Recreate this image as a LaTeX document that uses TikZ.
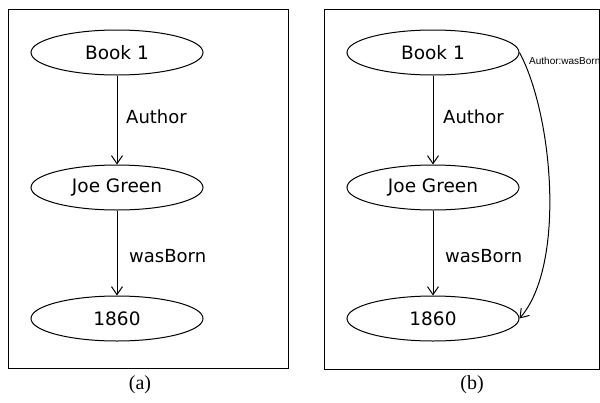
\documentclass[tikz,border=0pt]{standalone}
\usepackage{fontspec}
\setmainfont{Liberation Serif}
\newfontfamily\graphfont{DejaVu Sans}
\newfontfamily\smallfont{Liberation Sans}
\usetikzlibrary{shapes.geometric,arrows.meta}
\begin{document}
\begin{tikzpicture}[x=1pt,y=-1pt,
  ent/.style={ellipse,draw,line width=1pt,minimum width=172pt,minimum height=45pt,inner sep=0pt,font=\graphfont\fontsize{18.5}{20}\selectfont},
  lbl/.style={anchor=west,inner sep=0pt,font=\graphfont\fontsize{18}{20}\selectfont},
  rel/.style={draw,line width=1pt,-{Straight Barb[length=8pt,width=11pt,line width=1pt]}},
  panel/.style={draw,line width=1pt},
  captext/.style={font=\fontsize{20}{22}\selectfont,inner sep=0pt}]
\useasboundingbox (0,0) rectangle (600,402);
\begin{scope}
\clip (0,0) rectangle (600,402);
% left panel
\draw[panel] (8,9) rectangle (288,368);
\node[ent] (a1) at (117,52.5) {Book 1};
\node[ent] (a2) at (117,187.5) {Joe Green};
\node[ent] (a3) at (117,318.5) {1860};
\draw[rel] (a1) -- (a2);
\draw[rel] (a2) -- (a3);
\node[lbl] (al1) at (126,117) {Author};
\node[lbl] (al2) at (129,256) {wasBorn};
\node[captext] (ca) at (140,385) {(a)};
% right panel
\draw[panel] (324,9) rectangle (599.5,369);
\node[ent] (b1) at (433,52.5) {Book 1};
\node[ent] (b2) at (433,187.5) {Joe Green};
\node[ent] (b3) at (433,318.5) {1860};
\draw[rel] (b1) -- (b2);
\draw[rel] (b2) -- (b3);
\node[lbl] (bl1) at (443,117) {Author};
\node[lbl] (bl2) at (445,256) {wasBorn};
\draw[rel] (b1.east) .. controls (553,115) and (566,265) .. (b3.east);
\node[anchor=west,inner sep=0pt,font=\smallfont\fontsize{10}{12}\selectfont] (bl3) at (529,61) {Author:wasBorn};
\node[captext] (cb) at (472,385) {(b)};
\end{scope}
\end{tikzpicture}
\end{document}
